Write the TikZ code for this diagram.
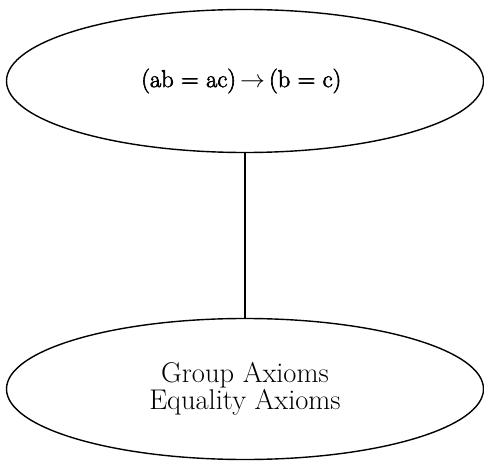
\documentclass[tikz,border=0pt]{standalone}
\usepackage{tikz}
\usepackage{amsmath,amssymb}
\usepackage{fontspec}
\setmainfont{Latin Modern Roman}
\newfontfamily\goalfont{Latin Modern Roman}[FakeBold=2.5]
\usetikzlibrary{shapes.geometric}

\begin{document}
\begin{tikzpicture}[x=1pt, y=1pt,
    oval/.style={draw, ellipse, line width=1.4pt, inner sep=0pt, align=center, minimum width=477pt}]
    \useasboundingbox (0,0) rectangle (484,461);

    % Goal
    \node[oval, minimum height=143pt, font=\fontsize{24.5}{28}\goalfont] (goal) at (245,380) {
        (ab = ac)\,$\rightarrow$\,(b = c)
    };

    % Axioms
    \node[oval, minimum height=141pt, font=\fontsize{28.5}{25}\selectfont] (axioms) at (245,72) {
        Group Axioms\\
        Equality Axioms
    };

    % Connection
    \draw[line width=1.4pt] (goal) -- (axioms);
\end{tikzpicture}
\end{document}
